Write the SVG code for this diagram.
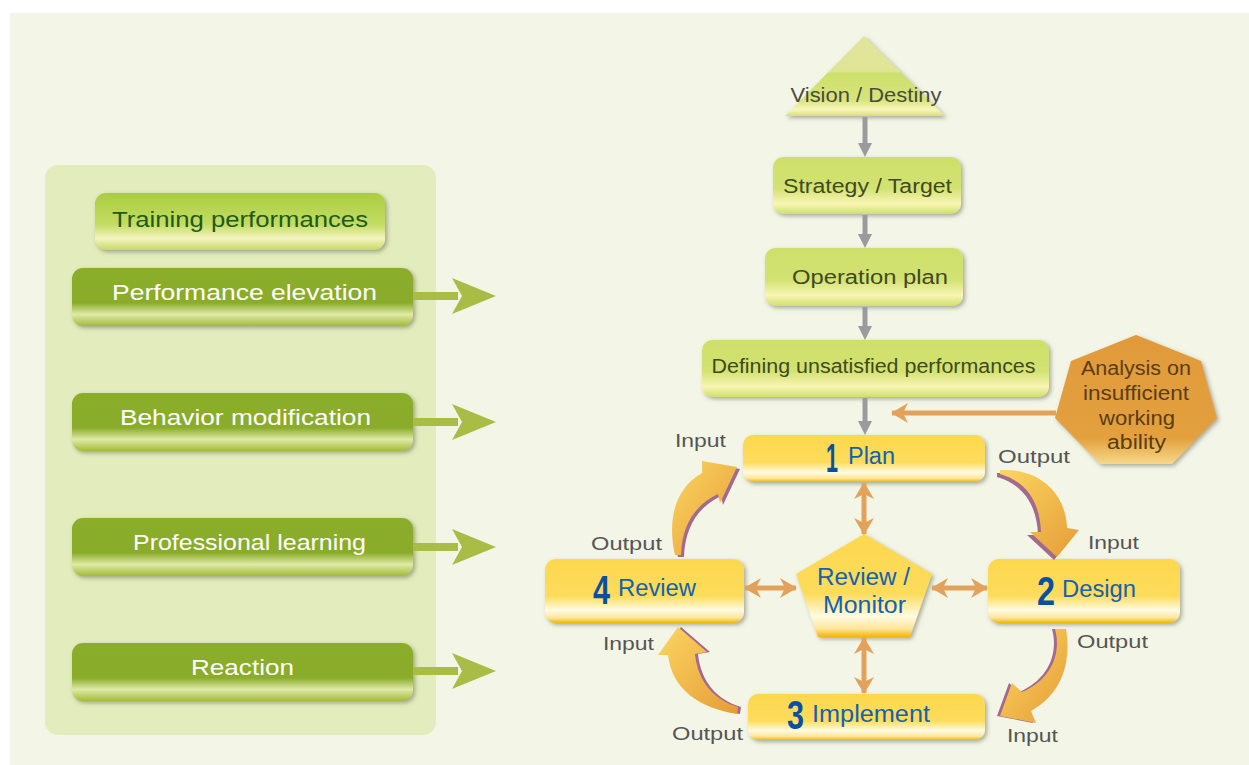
<svg xmlns="http://www.w3.org/2000/svg" width="1249" height="765" viewBox="0 0 1249 765">
<style>
.t{font-family:"Liberation Sans",Arial,sans-serif}
.lt{fill:#3f4a1e;font-size:20px}
.wt{fill:#ffffff;font-size:22px}
.bl{fill:#1262b0;font-size:23px}
.num{fill:#0a50a2;font-size:41px;font-weight:bold;font-family:"Liberation Sans Narrow","Liberation Sans",sans-serif}
.io{fill:#555555;font-size:19px}
.gl{stroke:#9b9b9d;stroke-width:5;fill:none}
.ol{stroke:#e3a25c;stroke-width:5;fill:none}
.ga{fill:#a9bc45}
.pur{fill:#a4698f}
.cur{fill:url(#gArr)}
</style>
<defs>
<linearGradient id="gDark" x1="0" y1="0" x2="0" y2="1">
<stop offset="0" stop-color="#8aad29"/><stop offset="0.6" stop-color="#8aac2a"/><stop offset="0.8" stop-color="#dfeaa6"/><stop offset="1" stop-color="#a3ba38"/>
</linearGradient>
<linearGradient id="gLight" x1="0" y1="0" x2="0" y2="1">
<stop offset="0" stop-color="#a9cd40"/><stop offset="0.55" stop-color="#c3dc62"/><stop offset="0.8" stop-color="#f5f4c0"/><stop offset="1" stop-color="#c6d968"/>
</linearGradient>
<linearGradient id="gPale" x1="0" y1="0" x2="0" y2="1">
<stop offset="0" stop-color="#cee06a"/><stop offset="0.55" stop-color="#d3e272"/><stop offset="0.82" stop-color="#f9f5b4"/><stop offset="1" stop-color="#cfe06c"/>
</linearGradient>
<linearGradient id="gTri" x1="0" y1="0" x2="0" y2="1">
<stop offset="0" stop-color="#e2e59c"/><stop offset="0.45" stop-color="#dfe495"/><stop offset="0.46" stop-color="#cde06c"/><stop offset="0.8" stop-color="#d6e47a"/><stop offset="0.92" stop-color="#faf6bb"/><stop offset="1" stop-color="#d6df78"/>
</linearGradient>
<linearGradient id="gYel" x1="0" y1="0" x2="0" y2="1">
<stop offset="0" stop-color="#fdd84e"/><stop offset="0.58" stop-color="#fddc5c"/><stop offset="0.8" stop-color="#fffbe2"/><stop offset="0.92" stop-color="#fde69a"/><stop offset="1" stop-color="#f3b500"/>
</linearGradient>
<linearGradient id="gHep" x1="0" y1="0" x2="0" y2="1">
<stop offset="0" stop-color="#e19a3a"/><stop offset="0.8" stop-color="#e3a03e"/><stop offset="1" stop-color="#f7d98a"/>
</linearGradient>
<linearGradient id="gArr" x1="0" y1="0" x2="1" y2="1">
<stop offset="0" stop-color="#fbd660"/><stop offset="1" stop-color="#e69c38"/>
</linearGradient>
<filter id="sh" x="-10%" y="-20%" width="125%" height="150%">
<feDropShadow dx="2" dy="2" stdDeviation="2" flood-color="#6b6b55" flood-opacity="0.55"/>
</filter>
<marker id="mg" markerWidth="16" markerHeight="14" refX="0" refY="7" orient="auto" markerUnits="userSpaceOnUse">
<path d="M0,0 L14,7 L0,14 Z" fill="#9b9b9d"/>
</marker>
<marker id="mo" markerWidth="18" markerHeight="22" refX="16" refY="11" orient="auto-start-reverse" markerUnits="userSpaceOnUse">
<path d="M0,1 L17,11 L0,21 L5,11 Z" fill="#e3a25c"/>
</marker>
</defs>

<rect x="0" y="0" width="1249" height="765" fill="#ffffff"/>
<rect x="10" y="13" width="1239" height="752" fill="#f3f6e7"/>

<g id="panel">
<rect x="45" y="165" width="391" height="570" rx="13" fill="#e2ecbc"/>
</g>

<g id="training-performances">
<rect x="95" y="193" width="290" height="57" rx="11" fill="url(#gLight)" filter="url(#sh)"/>
<text class="t" x="240" y="227" text-anchor="middle" fill="#1f5a1c" font-size="22" textLength="256" lengthAdjust="spacingAndGlyphs">Training performances</text>
</g>

<g id="performance-elevation">
<rect x="72" y="268" width="341" height="58" rx="11" fill="url(#gDark)" filter="url(#sh)"/>
<text class="t wt" x="244.5" y="300" text-anchor="middle" textLength="265" lengthAdjust="spacingAndGlyphs">Performance elevation</text>
</g>
<g id="behavior-modification">
<rect x="72" y="393" width="341" height="58" rx="11" fill="url(#gDark)" filter="url(#sh)"/>
<text class="t wt" x="245.5" y="425" text-anchor="middle" textLength="251" lengthAdjust="spacingAndGlyphs">Behavior modification</text>
</g>
<g id="professional-learning">
<rect x="72" y="518" width="341" height="58" rx="11" fill="url(#gDark)" filter="url(#sh)"/>
<text class="t wt" x="249.5" y="550" text-anchor="middle" textLength="233" lengthAdjust="spacingAndGlyphs">Professional learning</text>
</g>
<g id="reaction">
<rect x="72" y="643" width="341" height="58" rx="11" fill="url(#gDark)" filter="url(#sh)"/>
<text class="t wt" x="242.5" y="675" text-anchor="middle" textLength="103" lengthAdjust="spacingAndGlyphs">Reaction</text>
</g>

<g id="vision">
<polygon points="864,36 945,116 785,116" fill="url(#gTri)" filter="url(#sh)"/>
<text class="t" x="866" y="102" text-anchor="middle" fill="#4b4b3c" font-size="21" textLength="151" lengthAdjust="spacingAndGlyphs">Vision / Destiny</text>
</g>
<g id="strategy">
<rect x="773" y="157" width="188" height="57" rx="10" fill="url(#gPale)" filter="url(#sh)"/>
<text class="t lt" x="867.5" y="193" text-anchor="middle" textLength="169" lengthAdjust="spacingAndGlyphs">Strategy / Target</text>
</g>
<g id="operation-plan">
<rect x="765" y="248" width="198" height="58" rx="10" fill="url(#gPale)" filter="url(#sh)"/>
<text class="t lt" x="870" y="284" text-anchor="middle" textLength="156" lengthAdjust="spacingAndGlyphs">Operation plan</text>
</g>
<g id="defining">
<rect x="702" y="340" width="347" height="57" rx="10" fill="url(#gPale)" filter="url(#sh)"/>
<text class="t lt" x="873.5" y="373" text-anchor="middle" font-size="19" textLength="324" lengthAdjust="spacingAndGlyphs">Defining unsatisfied performances</text>
</g>
<g id="analysis">
<polygon points="1136,335 1201,361 1217,418 1172,464 1100,464 1055,418 1071,361" fill="url(#gHep)" filter="url(#sh)"/>
<g class="t" fill="#5a3c14" font-size="20" text-anchor="middle">
<text x="1136" y="375" textLength="110" lengthAdjust="spacingAndGlyphs">Analysis on</text>
<text x="1136" y="400" textLength="106" lengthAdjust="spacingAndGlyphs">insufficient</text>
<text x="1137" y="425" textLength="76" lengthAdjust="spacingAndGlyphs">working</text>
<text x="1136.5" y="449" textLength="59" lengthAdjust="spacingAndGlyphs">ability</text>
</g>
</g>

<g id="plan">
<rect x="743" y="435" width="242" height="47" rx="10" fill="url(#gYel)" filter="url(#sh)"/>
<text class="num" x="832" y="472" text-anchor="middle" textLength="12" lengthAdjust="spacingAndGlyphs">1</text>
<text class="t bl" x="848" y="464" textLength="47" lengthAdjust="spacingAndGlyphs">Plan</text>
</g>
<g id="design">
<rect x="988" y="559" width="192" height="64" rx="11" fill="url(#gYel)" filter="url(#sh)"/>
<text class="num" x="1046" y="605" text-anchor="middle" textLength="18" lengthAdjust="spacingAndGlyphs">2</text>
<text class="t bl" x="1062" y="597" textLength="74" lengthAdjust="spacingAndGlyphs">Design</text>
</g>
<g id="review">
<rect x="545" y="559" width="199" height="64" rx="11" fill="url(#gYel)" filter="url(#sh)"/>
<text class="num" x="601.5" y="604" text-anchor="middle" textLength="17" lengthAdjust="spacingAndGlyphs">4</text>
<text class="t bl" x="618" y="596" textLength="78" lengthAdjust="spacingAndGlyphs">Review</text>
</g>
<g id="implement">
<rect x="748" y="694" width="237" height="46" rx="10" fill="url(#gYel)" filter="url(#sh)"/>
<text class="num" x="795.5" y="729" text-anchor="middle" textLength="17" lengthAdjust="spacingAndGlyphs">3</text>
<text class="t bl" x="812" y="722" textLength="118" lengthAdjust="spacingAndGlyphs">Implement</text>
</g>
<g id="review-monitor">
<polygon points="864,534 932,574 910,637 818,637 796,574" fill="url(#gYel)" filter="url(#sh)"/>
<text class="t bl" x="863.5" y="585" text-anchor="middle" textLength="93" lengthAdjust="spacingAndGlyphs">Review /</text>
<text class="t bl" x="864.5" y="613" text-anchor="middle" textLength="83" lengthAdjust="spacingAndGlyphs">Monitor</text>
</g>

<g id="connectors">
<g class="ga">
<rect x="413" y="292" width="45" height="8"/><polygon points="452,278 496,296 452,314 462,296"/>
<rect x="413" y="418" width="45" height="8"/><polygon points="452,404 496,422 452,440 462,422"/>
<rect x="413" y="543" width="45" height="8"/><polygon points="452,529 496,547 452,565 462,547"/>
<rect x="413" y="667" width="45" height="8"/><polygon points="452,653 496,671 452,689 462,671"/>
</g>
<path class="gl" d="M865,117 L865,143" marker-end="url(#mg)"/>
<path class="gl" d="M865,215 L865,234" marker-end="url(#mg)"/>
<path class="gl" d="M865,307 L865,326" marker-end="url(#mg)"/>
<path class="gl" d="M865,398 L865,421" marker-end="url(#mg)"/>
<path class="ol" d="M1056,413 L892,413" marker-end="url(#mo)"/>
<path class="ol" d="M864,483 L864,534" marker-start="url(#mo)" marker-end="url(#mo)"/>
<path class="ol" d="M864,638 L864,693" marker-start="url(#mo)" marker-end="url(#mo)"/>
<path class="ol" d="M745,588 L796,588" marker-start="url(#mo)" marker-end="url(#mo)"/>
<path class="ol" d="M932,588 L987,588" marker-start="url(#mo)" marker-end="url(#mo)"/>
<path class="pur" transform="translate(3,2)" d="M675,555 C668,525 672,490 702,473 L702,461 L737,467 L720,503 L718,494 C695,505 682,525 681,555 Z"/>
<path class="cur" d="M675,555 C668,525 672,490 702,473 L702,461 L737,467 L720,503 L718,494 C695,505 682,525 681,555 Z"/>
<path class="pur" transform="translate(-3,3)" d="M1000,470 C1040,468 1066,494 1067,528 L1079,530 L1057,557 L1030,532 L1041,532 C1040,504 1028,482 1000,474 Z"/>
<path class="cur" d="M1000,470 C1040,468 1066,494 1067,528 L1079,530 L1057,557 L1030,532 L1041,532 C1040,504 1028,482 1000,474 Z"/>
<path class="pur" transform="translate(-3,0)" d="M1055,629 C1062,655 1050,680 1022,692 L1012,683 L1000,716 L1036,723 L1031,711 C1060,695 1072,665 1066,629 Z"/>
<path class="cur" d="M1055,629 C1062,655 1050,680 1022,692 L1012,683 L1000,716 L1036,723 L1031,711 C1060,695 1072,665 1066,629 Z"/>
<path class="pur" transform="translate(3,0)" d="M737,714 C700,708 672,690 668,655 L658,655 L678,627 L707,652 L695,654 C698,683 715,700 738,707 Z"/>
<path class="cur" d="M737,714 C700,708 672,690 668,655 L658,655 L678,627 L707,652 L695,654 C698,683 715,700 738,707 Z"/>
<g class="t io">
<text x="675" y="447" textLength="51" lengthAdjust="spacingAndGlyphs">Input</text>
<text x="998" y="463" textLength="72" lengthAdjust="spacingAndGlyphs">Output</text>
<text x="1088" y="549" textLength="51" lengthAdjust="spacingAndGlyphs">Input</text>
<text x="591" y="550" textLength="71" lengthAdjust="spacingAndGlyphs">Output</text>
<text x="1077" y="648" textLength="71" lengthAdjust="spacingAndGlyphs">Output</text>
<text x="603" y="650" textLength="51" lengthAdjust="spacingAndGlyphs">Input</text>
<text x="672" y="740" textLength="71" lengthAdjust="spacingAndGlyphs">Output</text>
<text x="1007" y="742" textLength="51" lengthAdjust="spacingAndGlyphs">Input</text>
</g>
</g>
</svg>
